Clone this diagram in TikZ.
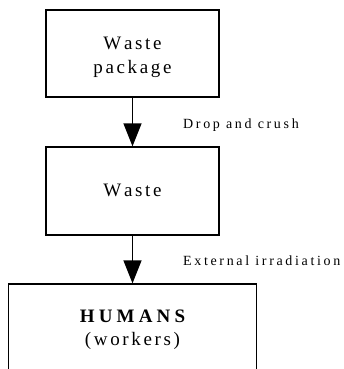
\documentclass[tikz,border=0pt]{standalone}
\usepackage{fontspec}
\setmainfont{Liberation Serif}
\newfontfamily\boxfont[LetterSpace=14,Kerning=Off]{Liberation Serif}
\newfontfamily\labfont[LetterSpace=19,Kerning=Off]{Liberation Serif}
\usetikzlibrary{arrows.meta}
\begin{document}
\begin{tikzpicture}[x=1pt,y=-1pt,
  box/.style={draw,line width=1.2pt,rectangle,inner sep=0pt},
  boxtext/.style={align=center,inner sep=0pt,font=\boxfont\fontsize{19}{24}\selectfont},
  flow/.style={line width=1.2pt,-{Triangle[length=23pt,width=18pt]}},
  steplabel/.style={anchor=base west,inner sep=0pt,font=\labfont\fontsize{14}{16}\selectfont}]
  \useasboundingbox (0,0) rectangle (344,369);
  % source, intermediate and receptor boxes
  \node[box,minimum width=173pt,minimum height=87pt] (pkg) at (132.5,53.5) {};
  \node[boxtext] (pkgtext) at (132.5,57) {Waste\\package};
  \node[box,minimum width=173pt,minimum height=88pt] (waste) at (132.5,191) {};
  \node[boxtext] (wastetext) at (132.5,190) {Waste};
  \node[box,minimum width=248pt,minimum height=140pt] (humans) at (132.5,354) {};
  \node[boxtext,font=\boxfont\fontsize{19}{23}\selectfont] (humanstext) at (132.5,330)
    {{\bfseries\addfontfeature{LetterSpace=22}HUMANS}\\(workers)};
  % transfer pathways
  \draw[flow] (pkg.south) -- (waste.north);
  \draw[flow] (waste.south) -- (humans.north);
  \node[steplabel] (drop) at (183,128) {Drop and crush};
  \node[steplabel] (irr) at (183,265) {External irradiation};
\end{tikzpicture}
\end{document}
